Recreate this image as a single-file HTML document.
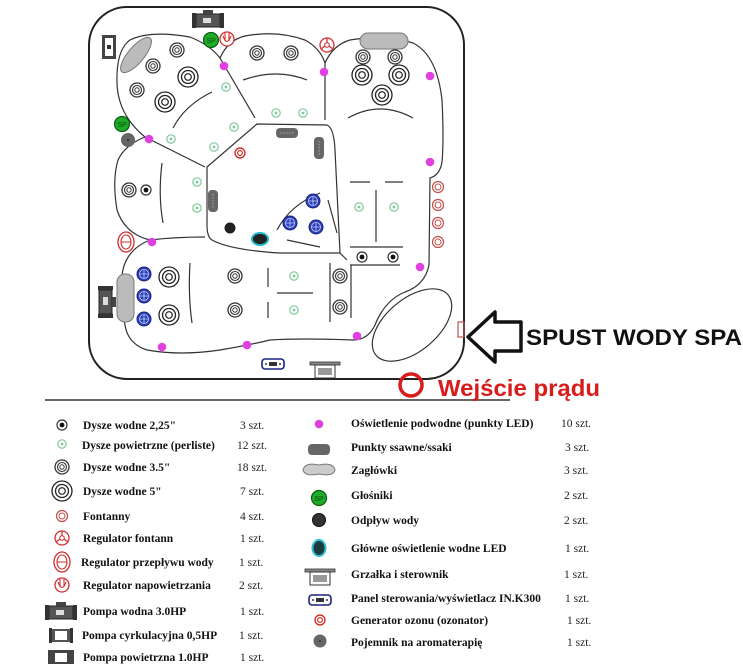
<!DOCTYPE html>
<html><head><meta charset="utf-8"><style>
html,body{margin:0;padding:0;background:#fff;width:743px;height:668px;overflow:hidden}
svg{display:block}
.l{font-family:"Liberation Serif",serif;font-weight:bold;font-size:11.5px;fill:#111}
.c{font-family:"Liberation Serif",serif;font-size:11.5px;fill:#222}
</style></head><body>
<svg width="743" height="668" viewBox="0 0 743 668" xmlns="http://www.w3.org/2000/svg">
<defs>
<g id="j5"><circle r="10" fill="#fff" stroke="#222" stroke-width="1.3"/><circle r="6.5" fill="none" stroke="#222" stroke-width="1.3"/><circle r="3.3" fill="none" stroke="#222" stroke-width="1.2"/></g>
<g id="j35"><circle r="7" fill="#fff" stroke="#333" stroke-width="1.3"/><circle r="4.5" fill="none" stroke="#333" stroke-width="1.1"/><circle r="2.2" fill="none" stroke="#333" stroke-width="1"/></g>
<g id="j2"><circle r="5" fill="#fff" stroke="#333" stroke-width="1.2"/><circle r="2.4" fill="#111"/></g>
<g id="ga"><circle r="4.2" fill="#fff" stroke="#7fc99a" stroke-width="1.2"/><circle r="1.4" fill="#7fc99a"/></g>
<g id="led"><circle r="4.3" fill="#e040e0"/></g>
<g id="bl"><circle r="7" fill="#2a3fb8" stroke="#1a237e" stroke-width="1"/><circle r="4.5" fill="none" stroke="#c8d0ff" stroke-width="0.8"/><path d="M-4.5 0H4.5M0 -4.5V4.5" stroke="#c8d0ff" stroke-width="0.8"/></g>
<g id="fo"><circle r="5.5" fill="#fff" stroke="#c0504d" stroke-width="1.2"/><circle r="3" fill="none" stroke="#c0504d" stroke-width="1"/></g>
<g id="oz"><circle r="5" fill="#fff" stroke="#d32f2f" stroke-width="1.4"/><circle r="2.4" fill="none" stroke="#d32f2f" stroke-width="1.2"/></g>
<g id="sp"><circle r="7.5" fill="#1faa2a" stroke="#0d5e12" stroke-width="1.2"/><text x="0" y="3" font-size="7" text-anchor="middle" font-family="Liberation Sans" fill="#0b4d10">SP</text></g>
<g id="rf"><circle r="7" fill="#fff" stroke="#d32f2f" stroke-width="1.3"/><path d="M0 -2L0 -7M-2 1L-6 4M2 1L6 4" stroke="#d32f2f" stroke-width="1.3"/><circle r="2.3" fill="none" stroke="#d32f2f"/></g>
<g id="rn"><circle r="7" fill="#fff" stroke="#d32f2f" stroke-width="1.3"/><path d="M-4 -3Q0 8 4 -3M-2 -6V2M2 -6V2" fill="none" stroke="#d32f2f" stroke-width="1.1"/></g>
<g id="rp"><ellipse rx="8" ry="10" fill="#fff" stroke="#d32f2f" stroke-width="1.3"/><ellipse rx="5" ry="7" fill="none" stroke="#d32f2f" stroke-width="1.1"/><path d="M-5 0H5" stroke="#d32f2f"/></g>
<g id="pump"><rect x="-12" y="-6" width="24" height="13" fill="#555" stroke="#222"/><rect x="-16" y="-7" width="4" height="15" fill="#333"/><rect x="12" y="-7" width="4" height="15" fill="#333"/><rect x="-5" y="-10" width="10" height="4" fill="#444"/><rect x="-5" y="-2" width="8" height="5" fill="#ddd"/></g>
<g id="heat"><rect x="-15" y="-5" width="30" height="3" fill="#888" stroke="#333" stroke-width="0.8"/><rect x="-10" y="-2" width="20" height="13" fill="#fff" stroke="#333"/><rect x="-7" y="1" width="14" height="7" fill="#999"/></g>
<g id="panel"><rect x="-11" y="-5" width="22" height="10" rx="3" fill="#fff" stroke="#1a237e" stroke-width="1.6"/><rect x="-4" y="-2" width="8" height="4" fill="#333"/><circle cx="-7" cy="0" r="1" fill="#333"/><circle cx="7" cy="0" r="1" fill="#333"/></g>
<g id="suc"><rect x="-11" y="-5" width="22" height="10" rx="4" fill="#666"/><path d="M-7 0H7" stroke="#aaa" stroke-dasharray="1.5 1.5"/></g>
</defs>

<rect x="89" y="7" width="375" height="372" rx="38" fill="none" stroke="#222" stroke-width="2"/>
<line x1="45" y1="400" x2="510" y2="400" stroke="#333" stroke-width="1.5"/>

<g fill="none" stroke="#333" stroke-width="1.2">
<path d="M145 137 Q118 115 117 83 Q116 50 130 40 Q150 30 190 37 Q210 45 220 58 Q228 40 245 36 Q277 30 305 40 Q320 48 325 63 Q333 45 350 40 Q385 34 413 43 Q437 55 442 100 Q444 140 442 162 Q440 175 430 178 L429 265 Q425 285 405 292 Q385 300 375 325 Q368 340 353 340 Q300 338 270 340 Q245 346 220 350 Q180 356 147 350 Q128 344 125 325 Q120 300 122 275 Q125 250 150 240 Q125 234 117 210 Q112 180 118 160 Q125 145 145 137Z"/>
<path d="M220 58 L255 118"/>
<path d="M325 63 L325 120"/>
<path d="M207 167 L257 124 L327 125 Q334 128 335 150 L340 253 L280 253 Q230 250 212 240 Q207 237 207 225Z"/>
<path d="M145 137 L205 167"/>
<path d="M150 240 Q175 237 205 237"/>
<path d="M340 253 L347 260"/>
<path d="M350 265 H400 M351 265 V318 M350 247 H403"/>
<path d="M350 182 H370 M385 182 H403 M376 190 V242"/>
<path d="M243 80 Q277 68 307 80"/>
<path d="M348 118 Q380 100 413 118"/>
<path d="M173 128 Q185 105 212 92"/>
<path d="M162 163 Q158 195 163 223"/>
<path d="M190 263 Q188 295 192 323"/>
<path d="M268 268 V287 M268 302 V318 M277 293 H313 M330 263 V322"/>
<path d="M277 230 Q290 205 320 193"/>
<path d="M328 200 L337 233 M287 240 L320 247"/>
<ellipse cx="412" cy="325" rx="47" ry="26" transform="rotate(-40 412 325)"/>
</g>

<ellipse cx="136" cy="55" rx="22" ry="8" fill="#bbb" stroke="#777" transform="rotate(-50 136 55)"/>
<rect x="360" y="33" width="48" height="16" rx="8" fill="#bbb" stroke="#777"/>
<rect x="117" y="274" width="17" height="48" rx="8" fill="#bbb" stroke="#777"/>

<use href="#j5" x="188" y="77"/><use href="#j5" x="165" y="102"/><use href="#j5" x="362" y="75"/><use href="#j5" x="399" y="75"/><use href="#j5" x="382" y="95"/><use href="#j5" x="169" y="277"/><use href="#j5" x="169" y="315"/>
<use href="#j35" x="177" y="50"/><use href="#j35" x="153" y="66"/><use href="#j35" x="137" y="90"/><use href="#j35" x="257" y="53"/><use href="#j35" x="291" y="53"/><use href="#j35" x="363" y="57"/><use href="#j35" x="395" y="57"/><use href="#j35" x="129" y="190"/><use href="#j35" x="235" y="276"/><use href="#j35" x="235" y="310"/><use href="#j35" x="340" y="276"/><use href="#j35" x="340" y="307"/>
<use href="#j2" x="146" y="190"/><use href="#j2" x="362" y="257"/><use href="#j2" x="393" y="257"/>
<use href="#ga" x="226" y="87"/><use href="#ga" x="234" y="127"/><use href="#ga" x="214" y="147"/><use href="#ga" x="171" y="139"/><use href="#ga" x="276" y="113"/><use href="#ga" x="303" y="113"/><use href="#ga" x="197" y="182"/><use href="#ga" x="197" y="208"/><use href="#ga" x="359" y="207"/><use href="#ga" x="394" y="207"/><use href="#ga" x="294" y="276"/><use href="#ga" x="294" y="310"/>
<use href="#led" x="224" y="66"/><use href="#led" x="324" y="72"/><use href="#led" x="430" y="76"/><use href="#led" x="149" y="139"/><use href="#led" x="430" y="162"/><use href="#led" x="152" y="242"/><use href="#led" x="420" y="267"/><use href="#led" x="357" y="336"/><use href="#led" x="247" y="345"/><use href="#led" x="162" y="347"/>
<use href="#bl" x="313" y="201"/><use href="#bl" x="290" y="223"/><use href="#bl" x="316" y="227"/><use href="#bl" x="144" y="274"/><use href="#bl" x="144" y="296"/><use href="#bl" x="144" y="319"/>
<use href="#fo" x="438" y="187"/><use href="#fo" x="438" y="205"/><use href="#fo" x="438" y="223"/><use href="#fo" x="438" y="242"/>
<use href="#oz" x="240" y="153"/>
<circle cx="230" cy="228" r="5.5" fill="#222"/>
<ellipse cx="260" cy="239" rx="8" ry="6" fill="#222" stroke="#20b8c8" stroke-width="2"/>
<use href="#suc" x="287" y="133"/>
<g transform="translate(319 148) rotate(90)"><use href="#suc"/></g>
<g transform="translate(213 201) rotate(90)"><use href="#suc"/></g>
<use href="#sp" x="211" y="40"/><use href="#sp" x="122" y="124"/>
<circle cx="128" cy="140" r="7" fill="#666"/><circle cx="128" cy="140" r="1" fill="#222"/>
<use href="#rn" x="227" y="39"/><use href="#rf" x="327" y="45"/><use href="#rp" x="126" y="242"/>
<use href="#pump" x="208" y="20"/>
<g transform="translate(109 47) rotate(90)"><rect x="-12" y="-7" width="24" height="14" fill="#444"/><rect x="-9" y="-4" width="18" height="8" fill="#fff"/><rect x="-2" y="-2" width="4" height="4" fill="#333"/></g>
<g transform="translate(106 302) rotate(90)"><use href="#pump"/></g>
<use href="#panel" x="273" y="364"/>
<use href="#heat" x="325" y="367"/>
<rect x="458" y="322" width="6" height="15" fill="none" stroke="#c0504d" stroke-width="1.2"/>

<path d="M468 337 L495 312 L495 322 L521 322 L521 351 L495 351 L495 362Z" fill="#fff" stroke="#111" stroke-width="3.5" stroke-linejoin="round"/>
<text x="526" y="345" font-family="Liberation Sans" font-weight="bold" font-size="22.5" textLength="216" lengthAdjust="spacingAndGlyphs" fill="#111">SPUST WODY SPA</text>
<circle cx="411" cy="385" r="11" fill="none" stroke="#d81b1b" stroke-width="3.5"/>
<text x="438" y="396" font-family="Liberation Sans" font-weight="bold" font-size="23" textLength="162" lengthAdjust="spacingAndGlyphs" fill="#d81b1b">Wejście prądu</text>

<use href="#j2" x="62" y="425"/>
<use href="#ga" x="62" y="444"/>
<use href="#j35" x="62" y="467"/>
<use href="#j5" x="62" y="491"/>
<use href="#fo" x="62" y="516"/>
<use href="#rf" x="62" y="538"/>
<use href="#rp" x="62" y="562"/>
<use href="#rn" x="62" y="585"/>
<use href="#pump" x="61" y="612"/>
<g transform="translate(61 635)"><rect x="-10" y="-6" width="20" height="13" fill="#555"/><rect x="-6" y="-4" width="12" height="9" fill="#fff"/><rect x="-12" y="-7" width="3" height="15" fill="#333"/><rect x="9" y="-7" width="3" height="15" fill="#333"/></g>
<g transform="translate(61 657)"><rect x="-13" y="-7" width="26" height="14" fill="#444"/><rect x="-6" y="-4" width="12" height="9" fill="#fff"/></g>
<g class="l">
<text x="83" y="429">Dysze wodne 2,25"</text>
<text x="82" y="449">Dysze powietrzne (perliste)</text>
<text x="83" y="471">Dysze wodne 3.5"</text>
<text x="83" y="495">Dysze wodne 5"</text>
<text x="83" y="520">Fontanny</text>
<text x="83" y="542">Regulator fontann</text>
<text x="81" y="566">Regulator przepływu wody</text>
<text x="83" y="589">Regulator napowietrzania</text>
<text x="83" y="615">Pompa wodna 3.0HP</text>
<text x="82" y="639">Pompa cyrkulacyjna 0,5HP</text>
<text x="83" y="661">Pompa powietrzna 1.0HP</text>
</g>
<g class="c">
<text x="240" y="429">3 szt.</text><text x="237" y="449">12 szt.</text><text x="237" y="471">18 szt.</text><text x="240" y="495">7 szt.</text><text x="240" y="520">4 szt.</text><text x="240" y="542">1 szt.</text><text x="239" y="566">1 szt.</text><text x="239" y="589">2 szt.</text><text x="240" y="615">1 szt.</text><text x="239" y="639">1 szt.</text><text x="240" y="661">1 szt.</text>
</g>

<use href="#led" x="319" y="424"/>
<rect x="308" y="444" width="22" height="11" rx="4" fill="#666"/>
<path d="M303 470 Q305 462 319 465 Q333 462 335 470 Q333 477 319 474 Q305 477 303 470Z" fill="#ccc" stroke="#777"/>
<use href="#sp" x="319" y="498"/>
<circle cx="319" cy="520" r="6.5" fill="#333" stroke="#111"/>
<ellipse cx="319" cy="548" rx="6.5" ry="8" fill="#1e3a3a" stroke="#2ac0d0" stroke-width="2"/>
<use href="#heat" x="320" y="574"/>
<use href="#panel" x="320" y="600"/>
<use href="#oz" x="320" y="620"/>
<circle cx="320" cy="641" r="6.5" fill="#666"/><circle cx="320" cy="641" r="0.8" fill="#222"/>
<g class="l">
<text x="351" y="427">Oświetlenie podwodne (punkty LED)</text>
<text x="351" y="451">Punkty ssawne/ssaki</text>
<text x="351" y="474">Zagłówki</text>
<text x="351" y="499">Głośniki</text>
<text x="351" y="524">Odpływ wody</text>
<text x="351" y="552">Główne oświetlenie wodne LED</text>
<text x="351" y="578">Grzałka i sterownik</text>
<text x="351" y="602">Panel sterowania/wyświetlacz IN.K300</text>
<text x="351" y="624">Generator ozonu (ozonator)</text>
<text x="351" y="646">Pojemnik na aromaterapię</text>
</g>
<g class="c">
<text x="561" y="427">10 szt.</text><text x="565" y="451">3 szt.</text><text x="564" y="474">3 szt.</text><text x="564" y="499">2 szt.</text><text x="564" y="524">2 szt.</text><text x="565" y="552">1 szt.</text><text x="564" y="578">1 szt.</text><text x="565" y="602">1 szt.</text><text x="567" y="624">1 szt.</text><text x="567" y="646">1 szt.</text>
</g>
</svg>
</body></html>
